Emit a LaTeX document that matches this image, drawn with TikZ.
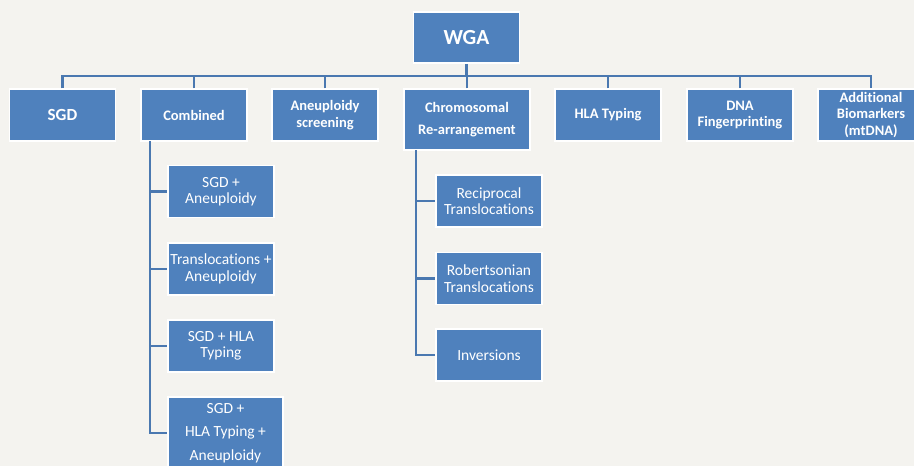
\documentclass[tikz,border=0pt]{standalone}
\usepackage{fontspec}
\setmainfont{Carlito}[Ligatures={NoCommon}]
\definecolor{boxblue}{HTML}{4F81BD}
\definecolor{lineblue}{HTML}{4A78B0}
\definecolor{paper}{HTML}{F4F3EF}
\tikzset{
  bx/.style={draw=white, line width=1.5pt, fill=boxblue, text=white, align=center, inner sep=1pt},
  topbox/.style={bx, minimum width=106pt, minimum height=52pt, font=\bfseries\fontsize{14.5}{16.5}\selectfont},
  kidbox/.style={bx, minimum width=106pt, minimum height=52pt, font=\fontsize{15.5}{16.5}\selectfont},
  conn/.style={draw=lineblue, line width=2.5pt}
}
\begin{document}
\begin{tikzpicture}[x=1pt,y=-1pt]
\useasboundingbox (0,0) rectangle (914,466);
\fill[paper] (0,0) rectangle (914,466);
\clip (0,0) rectangle (914,466);
\coordinate (bus) at (0,76);
\node[bx, minimum width=106pt, minimum height=51pt, font=\bfseries\fontsize{21.5}{24}\selectfont] (wga) at (466.5,37.5) {WGA};
\node[topbox, font=\bfseries\fontsize{17}{20}\selectfont] (sgd) at (62.5,115) {SGD};
\node[topbox] (comb) at (194,115) {Combined};
\node[topbox] (aneu) at (325,115) {Aneuploidy\\screening};
\node[topbox, minimum width=126pt, minimum height=61pt, font=\bfseries\fontsize{14.5}{22}\selectfont] (chrom) at (467,119.5) {Chromosomal\\Re-arrangement};
\node[topbox] (hla) at (608,115) {HLA Typing};
\node[topbox] (dna) at (740,115) {DNA\\Fingerprinting};
\node[topbox] (add) at (871,115) {Additional\\Biomarkers\\(mtDNA)};
% combined children
\coordinate (cl) at (150,141);
\node[kidbox] (c1) at (221,191.5) {SGD +\\Aneuploidy};
\node[kidbox] (c2) at (221,269) {Translocations +\\Aneuploidy};
\node[kidbox] (c3) at (221,346) {SGD + HLA\\Typing};
\node[kidbox, minimum width=115pt, minimum height=72pt, font=\fontsize{15.5}{23.5}\selectfont] (c4) at (225.5,433) {SGD +\\HLA Typing +\\Aneuploidy};
% chromosomal children
\coordinate (rl) at (416,150);
\node[kidbox] (r1) at (489,201) {Reciprocal\\Translocations};
\node[kidbox] (r2) at (489,278.5) {Robertsonian\\Translocations};
\node[kidbox] (r3) at (489,355) {Inversions};
% connectors
\draw[conn] (wga.south) -- (wga.south |- bus);
\draw[conn] (sgd.north) -- (sgd.north |- bus) -- (add.north |- bus) -- (add.north);
\foreach \n in {comb,aneu,chrom,hla,dna} \draw[conn] (\n.north) -- (\n.north |- bus);
\draw[conn] (cl) |- (c4.west);
\foreach \n in {c1,c2,c3} \draw[conn] (cl |- \n.west) -- (\n.west);
\draw[conn] (rl) |- (r3.west);
\foreach \n in {r1,r2} \draw[conn] (rl |- \n.west) -- (\n.west);
\end{tikzpicture}
\end{document}
